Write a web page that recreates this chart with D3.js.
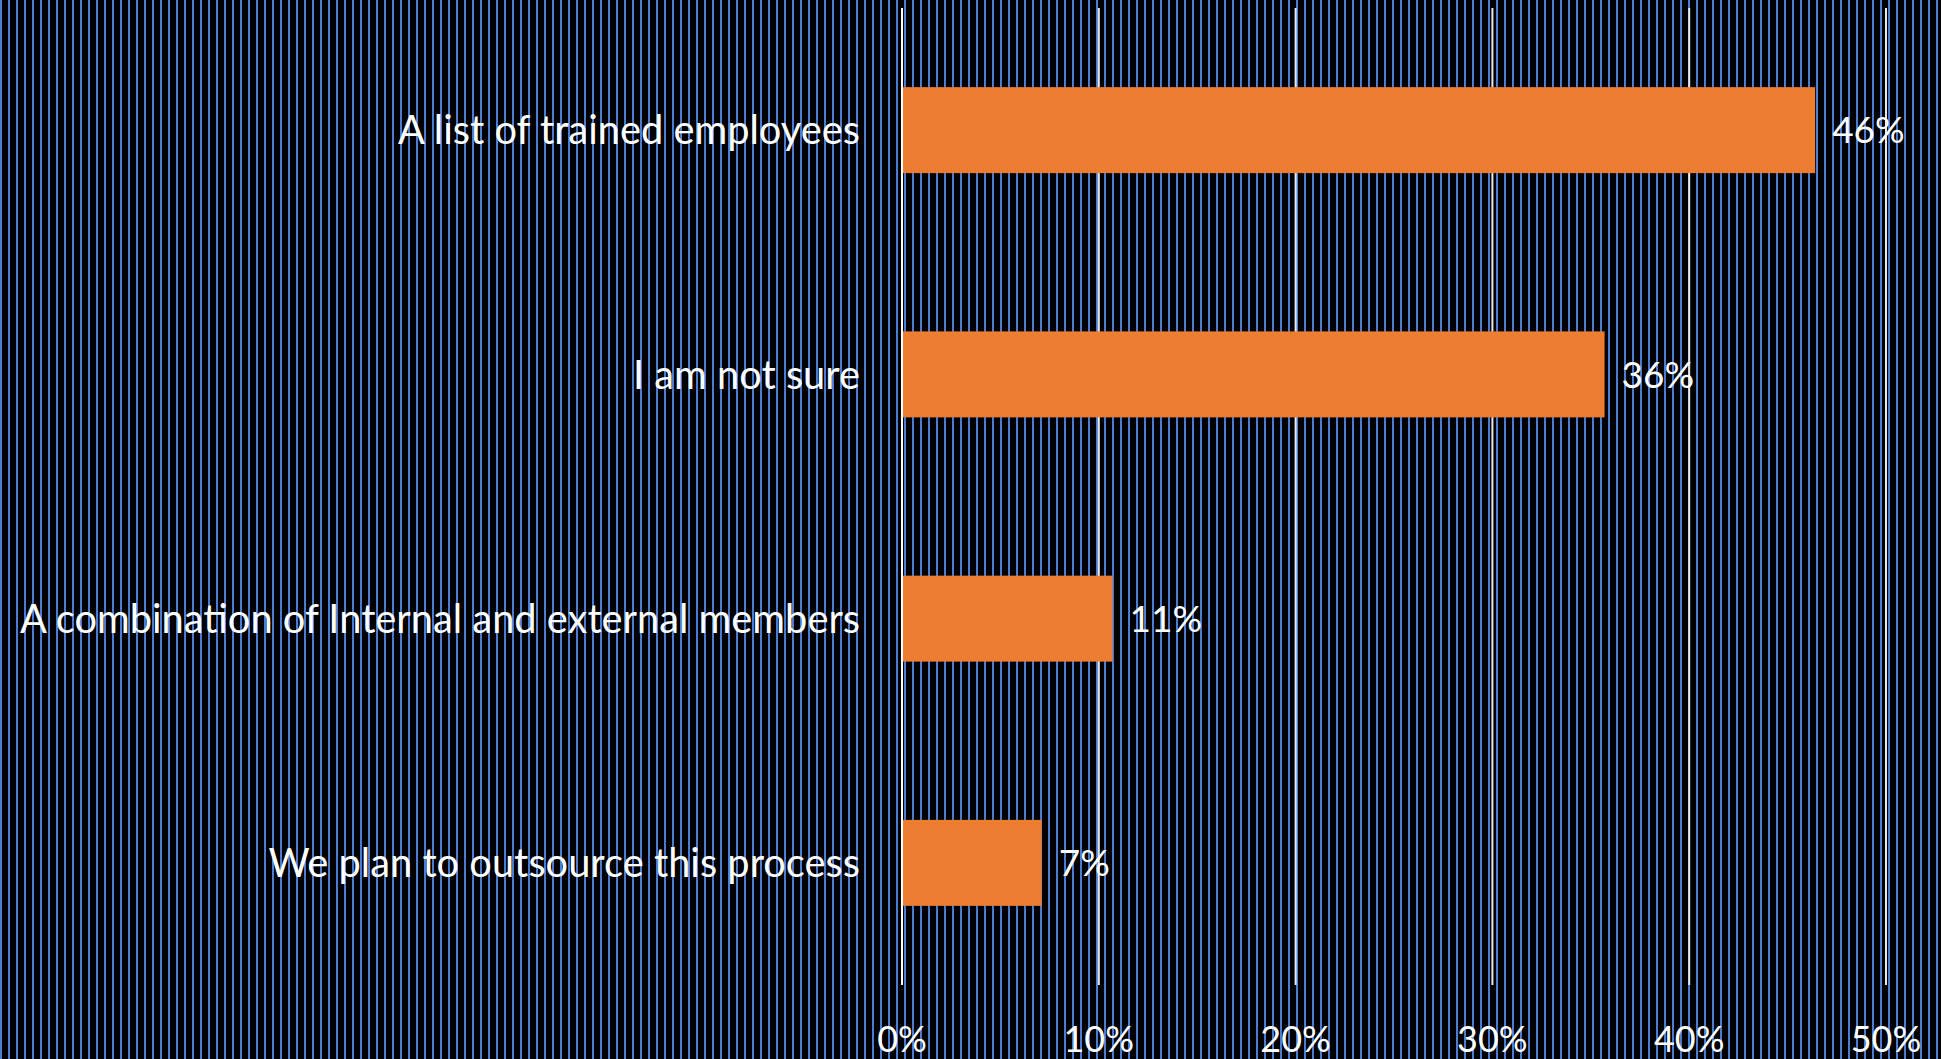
<!DOCTYPE html>
<html>
<head>
<meta charset="utf-8">
<script src="https://cdn.jsdelivr.net/npm/d3@7"></script>
<style>
  html, body { margin: 0; padding: 0; background: #000; }
  svg { display: block; }
</style>
</head>
<body>
<div id="chart"></div>
<script>
// data
const categories = [
    "A list of trained employees",
    "I am not sure",
    "A combination of Internal and external members",
    "We plan to outsource this process"
];
const values = [46.4, 35.7, 10.7, 7.1];
const valueLabels = ["46%", "36%", "11%", "7%"];
const tickValues = [0, 10, 20, 30, 40, 50];

const W = 1941, H = 1059;
var margin = {top: 8, right: 55, bottom: 74, left: 902};
var width = W - margin.left - margin.right,
    height = H - margin.top - margin.bottom;

const fontFam = "Lato, 'Open Sans', sans-serif";

var svg = d3.select("#chart").append("svg")
    .attr("width", W)
    .attr("height", H);

// striped background
var defs = svg.append("defs");
var pat = defs.append("pattern")
    .attr("id", "stripes")
    .attr("patternUnits", "userSpaceOnUse")
    .attr("width", 8)
    .attr("height", 8);
pat.append("rect").attr("width", 8).attr("height", 8).attr("fill", "#000");
pat.append("rect").attr("width", 2).attr("height", 8).attr("fill", "#4a7cd1");

svg.append("rect")
    .attr("width", W)
    .attr("height", H)
    .attr("fill", "url(#stripes)");

var g = svg.append("g")
    .attr("transform", "translate(" + margin.left + "," + margin.top + ")");

var x = d3.scaleLinear()
    .domain([0, 50])
    .range([0, width]);

var y = d3.scaleBand()
    .domain(categories)
    .range([0, height])
    .paddingInner(0.648)
    .paddingOuter(0.324);

// gridlines
g.selectAll("line.grid")
    .data(tickValues)
    .enter().append("line")
    .attr("class", "grid")
    .attr("x1", d => x(d))
    .attr("x2", d => x(d))
    .attr("y1", 0)
    .attr("y2", height)
    .attr("stroke", d => d === 0 ? "#ffffff" : "#e8e8e8")
    .attr("stroke-width", 2);

// x tick labels
g.selectAll("text.tick")
    .data(tickValues)
    .enter().append("text")
    .attr("class", "tick")
    .attr("x", d => x(d))
    .attr("y", height + 67)
    .attr("text-anchor", "middle")
    .attr("font-family", fontFam)
    .attr("font-size", 36)
    .attr("fill", "#fff")
    .text(d => d + "%");

// bars
g.selectAll("rect.bar")
    .data(values)
    .enter().append("rect")
    .attr("class", "bar")
    .attr("x", x(0) + 1)
    .attr("y", (d, i) => y(categories[i]))
    .attr("width", d => x(d) - x(0) - 1)
    .attr("height", y.bandwidth())
    .attr("fill", "#ed7d31");

// value labels
g.selectAll("text.val")
    .data(values)
    .enter().append("text")
    .attr("class", "val")
    .attr("x", d => x(d) + 17)
    .attr("y", (d, i) => y(categories[i]) + y.bandwidth() / 2)
    .attr("dy", "0.36em")
    .attr("font-family", fontFam)
    .attr("font-size", 37)
    .attr("fill", "#fff")
    .text((d, i) => valueLabels[i]);

// category labels
g.selectAll("text.cat")
    .data(categories)
    .enter().append("text")
    .attr("class", "cat")
    .attr("x", -42)
    .attr("y", d => y(d) + y.bandwidth() / 2)
    .attr("dy", "0.36em")
    .attr("text-anchor", "end")
    .attr("font-family", fontFam)
    .attr("font-size", 39.8)
    .attr("fill", "#fff")
    .text(d => d);
</script>
</body>
</html>
